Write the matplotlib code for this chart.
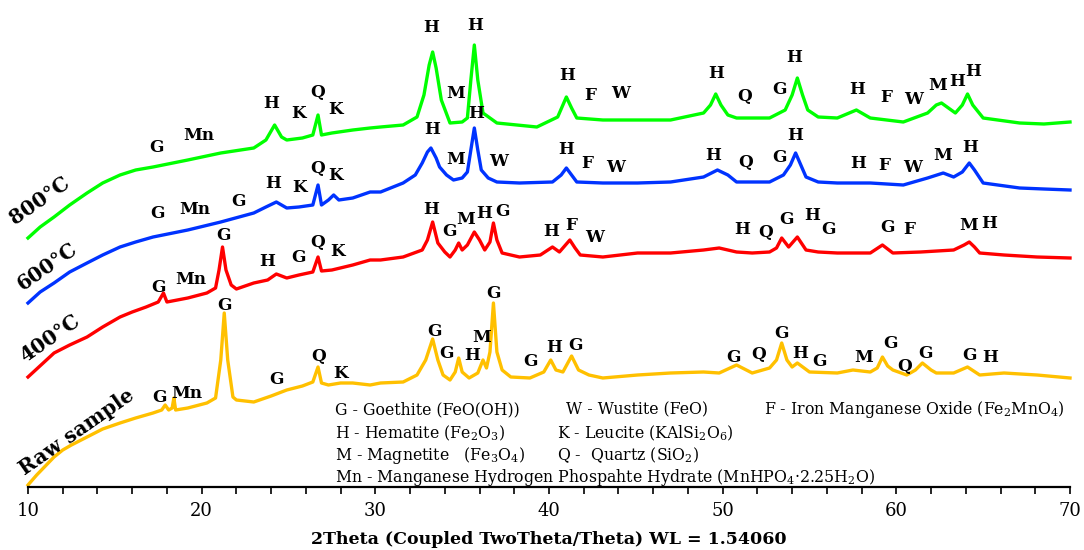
import matplotlib
matplotlib.use("Agg")
import matplotlib.pyplot as plt
from matplotlib.ticker import MultipleLocator

SERIF = "DejaVu Serif"
plt.rcParams["font.family"] = [SERIF]
plt.rcParams["mathtext.fontset"] = "custom"
plt.rcParams["mathtext.rm"] = SERIF
plt.rcParams["mathtext.it"] = SERIF + ":italic"
plt.rcParams["mathtext.bf"] = SERIF + ":bold"

# ---------------- data (2theta in degrees, intensity in arbitrary stacked units) -------------
raw_2theta = [10.0, 10.5, 11.0, 11.5, 12.0, 12.5, 13.4, 14.3, 15.3, 16.2,
              17.2, 17.7, 17.9, 18.1, 18.3, 18.4, 18.5, 19.2, 20.3, 20.8,
              21.1, 21.3, 21.5, 21.8, 22.0, 23.0, 24.0, 24.9, 25.8, 26.4,
              26.7, 26.9, 27.3, 28.0, 28.7, 29.7, 30.3, 31.6, 32.4, 32.9,
              33.3, 33.6, 33.9, 34.3, 34.6, 34.8, 35.0, 35.4, 35.9, 36.2,
              36.4, 36.6, 36.8, 37.0, 37.3, 37.8, 38.9, 39.7, 40.1, 40.4,
              40.8, 41.3, 41.7, 42.3, 43.1, 45.1, 47.0, 48.9, 49.8, 50.8,
              51.7, 52.7, 53.1, 53.4, 53.7, 54.0, 54.3, 55.0, 56.6, 57.5,
              58.5, 58.9, 59.2, 59.5, 59.8, 60.6, 61.1, 61.5, 62.0, 62.3,
              63.3, 64.1, 64.8, 66.2, 68.1, 70.0]
raw_int = [2, 12, 21, 30, 37, 42, 50, 58, 64, 69,
           74, 77, 82, 77, 79, 89, 77, 79, 84, 89,
           127, 174, 127, 90, 87, 85, 91, 97, 101, 105,
           120, 104, 102, 104, 104, 102, 104, 105, 112, 127,
           148, 127, 112, 107, 115, 129, 115, 109, 114, 127,
           119, 135, 184, 135, 117, 110, 109, 115, 127, 117,
           115, 131, 117, 112, 109, 112, 114, 115, 114, 122,
           114, 119, 127, 144, 127, 120, 124, 115, 114, 117,
           115, 119, 130, 121, 117, 112, 117, 124, 117, 114,
           114, 120, 112, 114, 112, 109]

t400_2theta = [10.0, 10.5, 11.0, 11.5, 12.4, 13.4, 14.3, 15.3, 16.0, 16.8,
               17.5, 17.8, 18.0, 19.2, 20.3, 20.8, 21.0, 21.2, 21.4, 21.7,
               22.0, 23.0, 23.8, 24.3, 24.9, 25.6, 26.4, 26.7, 26.9, 27.5,
               28.7, 29.7, 30.3, 31.6, 32.7, 33.0, 33.3, 33.6, 34.0, 34.3,
               34.6, 34.8, 35.0, 35.3, 35.7, 36.0, 36.3, 36.6, 36.8, 37.0,
               37.3, 38.3, 39.5, 40.2, 40.6, 41.2, 41.5, 41.8, 43.1, 45.1,
               47.0, 48.9, 49.8, 50.8, 51.7, 52.7, 53.1, 53.4, 53.8, 54.3,
               54.8, 55.5, 56.6, 58.5, 59.2, 59.8, 61.4, 63.3, 63.9, 64.2,
               64.5, 64.8, 66.2, 68.1, 70.0]
t400_int = [110, 118, 126, 134, 142, 150, 160, 170, 175, 180,
            185, 194, 185, 189, 194, 199, 217, 240, 217, 202,
            198, 204, 207, 213, 209, 212, 215, 230, 216, 217,
            222, 227, 227, 230, 237, 247, 265, 244, 235, 230,
            237, 244, 237, 242, 255, 247, 237, 245, 264, 247,
            234, 230, 232, 240, 235, 247, 239, 232, 230, 234,
            234, 237, 239, 235, 234, 235, 239, 249, 240, 250,
            237, 235, 234, 234, 242, 234, 235, 237, 242, 245,
            240, 234, 232, 230, 229]

t600_2theta = [10.0, 10.7, 11.5, 12.4, 13.4, 14.3, 15.3, 16.2, 17.2, 19.2,
               21.1, 23.0, 23.7, 24.3, 24.9, 25.6, 26.4, 26.7, 26.9, 27.3,
               27.6, 27.9, 28.7, 29.7, 30.3, 31.6, 32.3, 32.7, 33.0, 33.2,
               33.5, 33.7, 34.1, 34.5, 35.0, 35.3, 35.5, 35.7, 35.9, 36.1,
               36.5, 37.0, 38.3, 40.2, 40.7, 41.0, 41.3, 41.6, 43.1, 45.1,
               47.0, 48.9, 49.7, 50.3, 50.8, 52.7, 53.5, 53.9, 54.2, 54.5,
               54.8, 55.5, 56.6, 58.5, 60.4, 61.8, 62.7, 63.3, 63.8, 64.2,
               64.5, 65.0, 67.1, 68.5, 70.0]
t600_int = [184, 195, 204, 215, 224, 232, 240, 245, 250, 257,
            265, 274, 280, 285, 279, 280, 282, 302, 282, 287,
            292, 287, 289, 295, 295, 304, 312, 324, 335, 339,
            329, 320, 312, 307, 309, 315, 337, 359, 337, 317,
            309, 305, 304, 305, 312, 319, 312, 305, 304, 304,
            305, 310, 317, 312, 305, 305, 312, 322, 334, 322,
            310, 305, 304, 304, 302, 309, 314, 310, 315, 324,
            317, 304, 299, 298, 297]

t800_2theta = [10.0, 10.7, 11.5, 12.4, 13.4, 14.3, 15.3, 16.2, 17.2, 19.2,
               21.1, 23.0, 23.7, 24.2, 24.6, 24.9, 25.8, 26.4, 26.7, 26.9,
               27.5, 28.7, 29.7, 30.3, 31.6, 32.4, 32.8, 33.1, 33.3, 33.5,
               33.8, 34.3, 35.0, 35.3, 35.5, 35.7, 35.9, 36.2, 37.0, 39.3,
               40.5, 40.8, 41.0, 41.3, 41.6, 43.1, 45.1, 47.0, 48.9, 49.3,
               49.6, 49.9, 50.3, 50.8, 52.7, 53.6, 54.0, 54.3, 54.6, 54.9,
               55.5, 56.6, 57.7, 58.5, 60.4, 61.8, 62.3, 62.6, 63.0, 63.4,
               63.8, 64.1, 64.4, 65.0, 67.1, 68.5, 70.0]
t800_int = [249, 260, 270, 282, 294, 304, 312, 317, 320, 327,
            334, 339, 347, 362, 350, 347, 349, 352, 372, 352,
            354, 357, 359, 360, 362, 370, 392, 422, 435, 419,
            387, 364, 365, 369, 407, 442, 407, 374, 364, 360,
            370, 382, 390, 379, 369, 367, 367, 367, 374, 382,
            393, 382, 372, 369, 369, 377, 392, 409, 392, 377,
            370, 369, 377, 369, 365, 374, 382, 384, 379, 374,
            382, 393, 382, 369, 364, 363, 365]

series_names = ["Raw sample", "400°C", "600°C", "800°C"]
series_colors = ["#FFC000", "#FF0000", "#0033FF", "#00FF00"]

# peak identification labels: (phase letter, 2theta, intensity position)
raw_peaks = [("G", 17.55, 90), ("Mn", 19.15, 94), ("G", 21.3, 182), ("G", 24.3, 107),
             ("Q", 26.75, 131), ("K", 28.0, 113), ("G", 33.4, 156), ("G", 34.1, 134),
             ("H", 35.55, 132), ("M", 36.1, 149), ("G", 36.8, 194), ("G", 38.95, 125),
             ("H", 40.3, 140), ("G", 41.5, 142), ("G", 50.6, 129), ("Q", 52.05, 133),
             ("G", 53.4, 154), ("H", 54.45, 134), ("G", 55.55, 125), ("M", 58.1, 130),
             ("G", 59.65, 143), ("Q", 60.45, 121), ("G", 61.7, 133), ("G", 64.2, 132),
             ("H", 65.4, 129)]
t400_peaks = [("G", 17.5, 200), ("Mn", 19.35, 207), ("G", 21.25, 252), ("H", 23.8, 225),
              ("G", 25.55, 230), ("Q", 26.65, 244), ("K", 27.8, 235), ("H", 33.2, 278),
              ("G", 34.25, 255), ("M", 35.2, 267), ("H", 36.25, 274), ("G", 37.3, 275),
              ("H", 40.15, 256), ("F", 41.3, 262), ("W", 42.65, 250), ("H", 51.15, 258),
              ("Q", 52.5, 254), ("G", 53.7, 268), ("H", 55.15, 272), ("G", 56.1, 258),
              ("G", 59.5, 260), ("F", 60.75, 258), ("M", 64.15, 261), ("H", 65.35, 264)]
t600_peaks = [("G", 17.45, 273), ("Mn", 19.6, 278), ("G", 22.1, 286), ("H", 24.1, 304),
              ("K", 25.65, 299), ("Q", 26.65, 318), ("K", 27.7, 311), ("H", 33.25, 357),
              ("M", 34.6, 327), ("H", 35.8, 373), ("W", 37.1, 326), ("H", 41.0, 337),
              ("F", 42.2, 323), ("W", 43.85, 320), ("H", 49.45, 332), ("Q", 51.35, 325),
              ("G", 53.25, 329), ("H", 54.15, 351), ("H", 57.8, 324), ("F", 59.3, 322),
              ("W", 60.95, 320), ("M", 62.65, 331), ("H", 64.25, 340)]
t800_peaks = [("G", 17.4, 340), ("Mn", 19.85, 352), ("H", 24.0, 383), ("K", 25.6, 373),
              ("Q", 26.65, 395), ("K", 27.7, 378), ("H", 33.2, 460), ("M", 34.65, 394),
              ("H", 35.75, 462), ("H", 41.05, 411), ("F", 42.35, 391), ("W", 44.1, 394),
              ("H", 49.6, 413), ("Q", 51.25, 391), ("G", 53.25, 397), ("H", 54.1, 430),
              ("H", 57.75, 398), ("F", 59.4, 390), ("W", 61.0, 388), ("M", 62.4, 401),
              ("H", 63.5, 406), ("H", 64.4, 415)]

# series name labels: (2theta, intensity) anchor
series_label_pos = [(12.82, 55), (11.27, 149), (11.09, 221), (10.69, 287)]

legend_lines = [
    [("G - Goethite (FeO(OH))", 335), ("W - Wustite (FeO)", 566),
     ("F - Iron Manganese Oxide (Fe$_2$MnO$_4$)", 764)],
    [("H - Hematite (Fe$_2$O$_3$)", 335), ("K - Leucite (KAlSi$_2$O$_6$)", 557)],
    [("M - Magnetite   (Fe$_3$O$_4$)", 335), ("Q -  Quartz (SiO$_2$)", 557)],
    [("Mn - Manganese Hydrogen Phospahte Hydrate (MnHPO$_4$·2.25H$_2$O)", 335)],
]
legend_rows_px = [410, 433, 455, 477]

x_label = "2Theta (Coupled TwoTheta/Theta) WL = 1.54060"

# ---------------- figure ----------------
W, H = 1084, 550
fig = plt.figure(figsize=(W / 100, H / 100), dpi=100)
ax = fig.add_axes([28 / W, (H - 487) / H, 1042 / W, 487 / H])
ax.set_xlim(10, 70)
ax.set_ylim(0, 487)

xs = [raw_2theta, t400_2theta, t600_2theta, t800_2theta]
ys = [raw_int, t400_int, t600_int, t800_int]
for x, y, c in zip(xs, ys, series_colors):
    ax.plot(x, y, color=c, lw=2.4, solid_joinstyle="round", clip_on=False)

peak_font = dict(fontsize=12.2, fontweight="bold", ha="center", va="center", color="black")
for peaks in [raw_peaks, t400_peaks, t600_peaks, t800_peaks]:
    for lab, px, py in peaks:
        ax.text(px, py, lab, **peak_font)

for name, (px, py) in zip(series_names, series_label_pos):
    ax.text(px, py, name, fontsize=14.5, fontweight="bold", rotation=35,
            rotation_mode="anchor", ha="center", va="center")

for row, ypx in zip(legend_lines, legend_rows_px):
    for txt, xpx in row:
        fig.text(xpx / W, 1 - ypx / H, txt, fontsize=11.3, ha="left", va="center")

for s in ["top", "right", "left"]:
    ax.spines[s].set_visible(False)
ax.spines["bottom"].set_linewidth(1.6)
ax.set_yticks([])
ax.xaxis.set_major_locator(MultipleLocator(10))
ax.xaxis.set_minor_locator(MultipleLocator(2))
ax.tick_params(axis="x", which="both", direction="out", length=5, width=1.2,
               labelsize=13, pad=6)
ax.set_xlabel(x_label, fontsize=12.5, fontweight="bold", labelpad=8)

fig.savefig("out.png", dpi=100)
